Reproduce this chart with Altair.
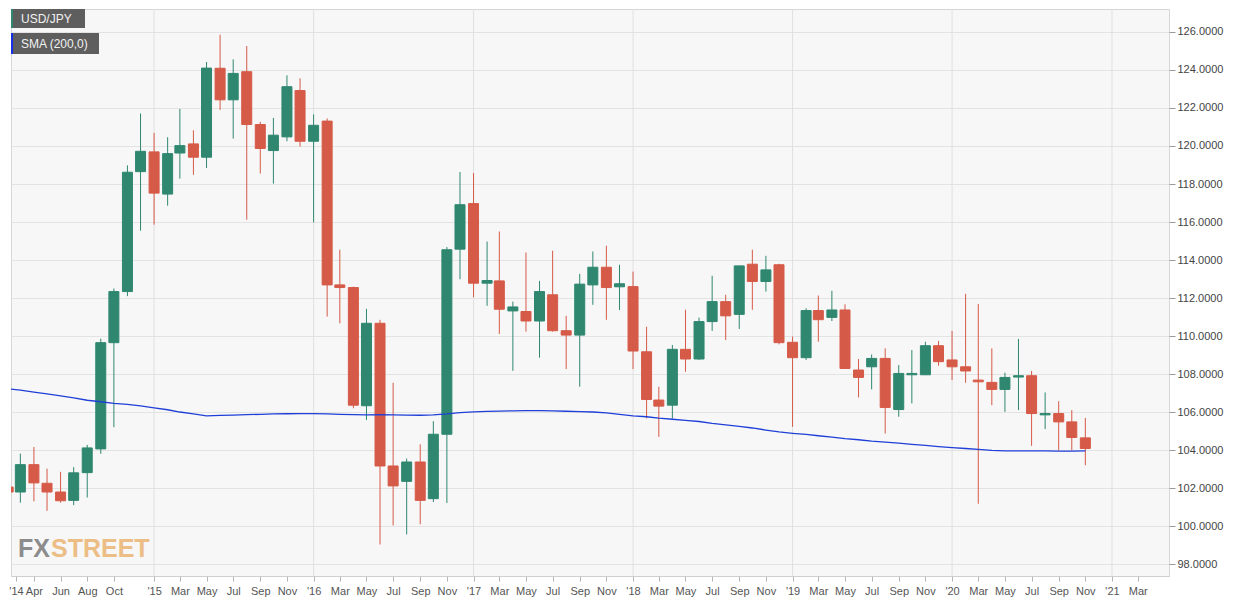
import altair as alt
import pandas as pd

# ---------------- data (monthly USD/JPY, Feb 2014 .. Nov 2020) ----------------
first_month = "2014-02-01"
n_months = 82

opens = [102.05, 101.79, 103.23, 102.25, 101.79, 101.35, 102.81, 104.06, 109.65, 112.34, 118.65,
         119.69, 117.47, 119.63, 120.11, 119.41, 124.09, 122.43, 123.91, 121.13, 119.76, 120.48, 122.92,
         120.25, 121.31, 112.69, 112.55, 106.33, 110.67, 103.16, 102.35, 103.37, 101.44, 104.83, 114.57,
         116.97, 112.78, 112.90, 111.32, 111.29, 110.79, 112.17, 110.28, 110.05, 112.69, 113.62, 112.59,
         112.60, 109.17, 106.63, 106.36, 109.30, 108.79, 110.76, 111.81, 111.14, 113.78, 112.87, 113.75,
         109.67, 108.86, 111.34, 110.98, 111.37, 108.21, 108.38, 108.82, 106.13, 107.96, 107.96, 109.49,
         108.74, 108.38, 107.68, 107.56, 107.19, 107.84, 107.91, 105.85, 105.92, 105.48, 104.64]
highs = [102.85, 103.81, 104.16, 103.02, 102.85, 103.10, 104.27, 109.86, 112.50, 118.98, 121.71,
         120.69, 120.46, 121.95, 120.83, 124.42, 125.86, 124.56, 125.26, 121.27, 121.48, 123.72, 123.56,
         121.66, 121.45, 114.54, 112.60, 111.43, 110.85, 107.54, 103.55, 104.30, 105.52, 114.68, 118.63,
         118.58, 114.97, 115.50, 111.81, 114.40, 112.90, 114.49, 111.06, 113.27, 114.45, 114.75, 113.75,
         113.39, 110.49, 107.33, 109.53, 111.38, 110.97, 113.17, 112.17, 113.70, 114.54, 114.22, 113.80,
         109.97, 111.46, 112.13, 112.38, 111.67, 108.79, 109.03, 109.35, 108.47, 109.26, 109.70, 109.74,
         110.27, 112.22, 111.69, 109.35, 108.07, 109.85, 108.16, 107.03, 106.57, 106.10, 105.69]
lows = [100.74, 101.23, 101.30, 100.80, 101.23, 101.10, 101.50, 103.80, 105.20, 112.10, 115.54,
        115.86, 116.86, 118.28, 118.49, 118.84, 121.90, 120.39, 116.12, 118.55, 118.02, 120.25, 119.97,
        115.98, 111.02, 110.67, 106.20, 105.58, 99.03, 100.03, 99.56, 100.09, 101.26, 101.21, 112.99,
        112.04, 111.59, 110.11, 108.17, 110.23, 108.86, 110.23, 108.26, 107.33, 111.64, 110.85, 111.37,
        108.26, 105.66, 104.69, 105.66, 108.12, 108.74, 110.27, 109.79, 110.37, 111.38, 112.34, 109.56,
        105.22, 108.74, 109.70, 110.79, 108.26, 106.77, 107.19, 104.87, 105.75, 106.45, 107.95, 108.44,
        107.68, 107.54, 101.17, 106.36, 106.01, 106.10, 104.22, 105.10, 103.99, 103.99, 103.20]
closes = [101.79, 103.23, 102.27, 101.79, 101.33, 102.80, 104.11, 109.65, 112.34, 118.62, 119.72,
          117.52, 119.60, 120.02, 119.41, 124.10, 122.43, 123.82, 121.13, 119.87, 120.57, 123.12, 120.25,
          121.09, 112.69, 112.55, 106.36, 110.67, 103.16, 102.11, 103.37, 101.35, 104.83, 114.54, 116.91,
          112.78, 112.92, 111.41, 111.53, 110.79, 112.34, 110.28, 110.05, 112.73, 113.62, 112.55, 112.75,
          109.21, 106.66, 106.31, 109.30, 108.79, 110.76, 111.81, 111.06, 113.69, 112.87, 113.48, 109.65,
          108.86, 111.34, 110.86, 111.37, 108.29, 107.82, 108.82, 106.24, 108.03, 108.03, 109.49, 108.65,
          108.38, 108.16, 107.59, 107.19, 107.82, 107.91, 105.92, 105.92, 105.48, 104.66, 104.08]
sma200 = [107.22, 107.15, 107.05, 106.95, 106.85, 106.75, 106.62, 106.54, 106.45, 106.40, 106.32,
          106.22, 106.12, 106.00, 105.90, 105.80, 105.82, 105.84, 105.86, 105.88, 105.90, 105.91, 105.92,
          105.92, 105.90, 105.88, 105.86, 105.85, 105.86, 105.85, 105.84, 105.83, 105.85, 105.90, 105.97,
          106.01, 106.03, 106.05, 106.06, 106.07, 106.07, 106.06, 106.04, 106.02, 106.00, 105.95, 105.88,
          105.80, 105.75, 105.68, 105.62, 105.56, 105.50, 105.40, 105.32, 105.24, 105.16, 105.05, 104.95,
          104.88, 104.82, 104.75, 104.68, 104.60, 104.54, 104.47, 104.42, 104.36, 104.30, 104.24, 104.18,
          104.13, 104.08, 104.03, 103.98, 103.96, 103.95, 103.95, 103.95, 103.94, 103.94, 103.95]

year_starts = ["2015-01-01", "2016-01-01", "2017-01-01", "2018-01-01", "2019-01-01",
               "2020-01-01", "2021-01-01"]
x_tick_dates = ["2014-02-19", "2014-04-01", "2014-06-01", "2014-08-01", "2014-10-01",
                "2015-01-01", "2015-03-01", "2015-05-01", "2015-07-01", "2015-09-01", "2015-11-01",
                "2016-01-01", "2016-03-01", "2016-05-01", "2016-07-01", "2016-09-01", "2016-11-01",
                "2017-01-01", "2017-03-01", "2017-05-01", "2017-07-01", "2017-09-01", "2017-11-01",
                "2018-01-01", "2018-03-01", "2018-05-01", "2018-07-01", "2018-09-01", "2018-11-01",
                "2019-01-01", "2019-03-01", "2019-05-01", "2019-07-01", "2019-09-01", "2019-11-01",
                "2020-01-01", "2020-03-01", "2020-05-01", "2020-07-01", "2020-09-01", "2020-11-01",
                "2021-01-01", "2021-03-01"]
y_ticks = [98, 100, 102, 104, 106, 108, 110, 112, 114, 116, 118, 120, 122, 124, 126]
legend_labels = ["USD/JPY", "SMA (200,0)"]
brand_parts = ["FX", "STREET"]

# ---------------- styling ----------------
GREEN = "#2f8770"
RED = "#d65a48"
BLUE = "#1f3fd8"
FONT = "Liberation Sans"

months = pd.date_range(first_month, periods=n_months, freq="MS").strftime("%Y-%m-%d").tolist()
df = pd.DataFrame({"date": months, "open": opens, "high": highs, "low": lows,
                   "close": closes, "sma": sma200})


def dt(s):
    return alt.DateTime(year=int(s[:4]), month=int(s[5:7]), date=int(s[8:10]), utc=True)


x_scale = alt.Scale(type="utc", domain=[dt("2014-02-19"), dt("2021-04-30")])
y_scale = alt.Scale(domain=[97.37, 127.21], zero=False, nice=False)

label_expr = ("datum.value < utc(2014,2,1) ? \"'14\" : "
              "(utcmonth(datum.value) == 0 ? \"'\" + utcFormat(datum.value, '%y') "
              ": utcFormat(datum.value, '%b'))")

X = alt.X("date:T", scale=x_scale, title=None,
          axis=alt.Axis(values=[dt(s) for s in x_tick_dates], labelExpr=label_expr,
                        grid=False, labelOverlap=False, labelFlush=True,
                        labelFontSize=11, labelColor="#555555", labelFont=FONT,
                        labelPadding=4, tickSize=5, tickColor="#b5b5b5",
                        domainColor="#cfcfcf"))
Y_AXIS = alt.Axis(orient="right", values=y_ticks, format=".4f", grid=True,
                  gridColor="#e3e3e3", domain=False, tickColor="#9a9a9a", tickSize=6,
                  labelColor="#444444", labelFontSize=11, labelFont=FONT,
                  labelPadding=2, title=None)

color_cond = alt.condition("datum.close >= datum.open", alt.value(GREEN), alt.value(RED))

base = alt.Chart(df)

year_rules = alt.Chart(pd.DataFrame({"date": year_starts})).mark_rule(
    color="#e0e0e0", strokeWidth=1).encode(x=X)

wicks = base.mark_rule(strokeWidth=1, clip=True).encode(
    x=X,
    y=alt.Y("low:Q", scale=y_scale, axis=Y_AXIS),
    y2="high:Q",
    color=color_cond,
)

bodies = base.mark_bar(size=10, clip=True, strokeWidth=1).encode(
    x=X,
    y=alt.Y("open:Q", scale=y_scale, axis=Y_AXIS),
    y2="close:Q",
    color=color_cond,
    stroke=color_cond,
)

sma_line = base.mark_line(color=BLUE, strokeWidth=1.3, clip=True).encode(
    x=X, y=alt.Y("sma:Q", scale=y_scale, axis=Y_AXIS))

# legend badges (top-left)
leg1 = alt.Chart(pd.DataFrame({"label": [legend_labels[0]]}))
leg2 = alt.Chart(pd.DataFrame({"label": [legend_labels[1]]}))
badge1 = leg1.mark_rect(color="#5e5e5e").encode(
    x=alt.value(0), x2=alt.value(74), y=alt.value(0), y2=alt.value(19))
stripe1 = leg1.mark_rect(color=GREEN).encode(
    x=alt.value(0), x2=alt.value(2), y=alt.value(0), y2=alt.value(19))
text1 = leg1.mark_text(align="left", baseline="middle", fontSize=12, font=FONT,
                       color="#f2f2f2").encode(x=alt.value(10), y=alt.value(9.5), text="label:N")
badge2 = leg2.mark_rect(color="#5e5e5e").encode(
    x=alt.value(0), x2=alt.value(88), y=alt.value(24), y2=alt.value(45))
stripe2 = leg2.mark_rect(color="#1630e8").encode(
    x=alt.value(0), x2=alt.value(2), y=alt.value(24), y2=alt.value(45))
text2 = leg2.mark_text(align="left", baseline="middle", fontSize=12, font=FONT,
                       color="#f2f2f2").encode(x=alt.value(10), y=alt.value(35), text="label:N")

# brand mark (bottom-left)
brand1 = alt.Chart(pd.DataFrame({"t": [brand_parts[0]]})).mark_text(
    align="left", baseline="alphabetic", fontSize=25, fontWeight="bold",
    font=FONT, color="#8c8c8c"
).encode(x=alt.value(7), y=alt.value(548), text="t:N")
brand2 = alt.Chart(pd.DataFrame({"t": [brand_parts[1]]})).mark_text(
    align="left", baseline="alphabetic", fontSize=25, fontWeight="bold",
    font=FONT, color="#ecbd85"
).encode(x=alt.value(40), y=alt.value(548), text="t:N")

chart = alt.layer(
    year_rules, brand1, brand2, wicks, bodies, sma_line,
    badge1, stripe1, text1, badge2, stripe2, text2,
).properties(
    width=1158, height=567,
    padding={"left": 0, "top": 0, "right": 4, "bottom": 4},
    background="white",
).configure_view(
    fill="#f7f7f7", stroke="#d6d6d6", strokeWidth=1,
)

chart.save("out.html", embed_options={"renderer": "svg", "actions": False})
